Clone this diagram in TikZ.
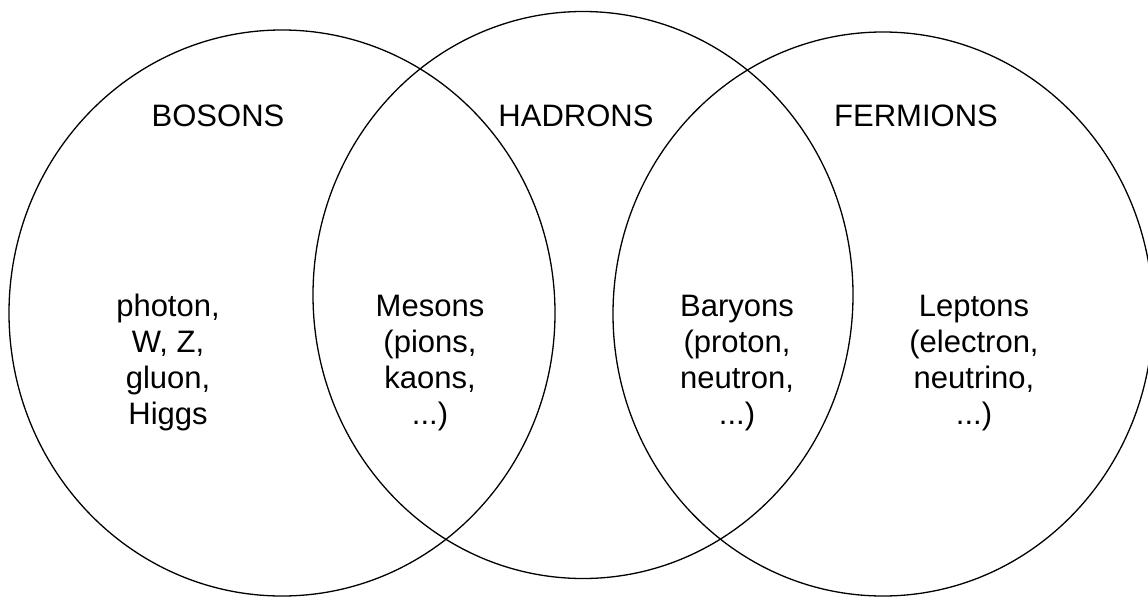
\documentclass[tikz,border=0pt]{standalone}
\usepackage{fontspec}
\setmainfont{Liberation Sans}
\usetikzlibrary{shapes.geometric}
\tikzset{
  set/.style={ellipse, draw=black, line width=1.3pt, inner sep=0pt, fill=none},
  title/.style={anchor=base, inner sep=0pt, font=\fontsize{31pt}{36pt}\selectfont},
  body/.style={anchor=base, inner sep=0pt, align=center, font=\fontsize{31pt}{36pt}\selectfont}
}
\begin{document}
\begin{tikzpicture}[x=1pt,y=-1pt]
\useasboundingbox (0,0) rectangle (1148,597);
\clip (0,0) rectangle (1148,597);
\node[set, minimum width=546pt, minimum height=566pt] (bos) at (282,313) {};
\node[set, minimum width=540pt, minimum height=567pt] (had) at (583,295) {};
\node[set, minimum width=540pt, minimum height=564pt] (fer) at (883,314) {};
\node[title] (tbos) at (218,126) {BOSONS};
\node[title] (thad) at (576,126) {HADRONS};
\node[title] (tfer) at (916,126) {FERMIONS};
\node[body] (gauge) at (168,424) {photon,\\W, Z,\\gluon,\\Higgs};
\node[body] (mes) at (430,424) {Mesons\\(pions,\\kaons,\\...)};
\node[body] (bar) at (737,424) {Baryons\\(proton,\\neutron,\\...)};
\node[body] (lep) at (974,424) {Leptons\\(electron,\\neutrino,\\...)};
\end{tikzpicture}
\end{document}
